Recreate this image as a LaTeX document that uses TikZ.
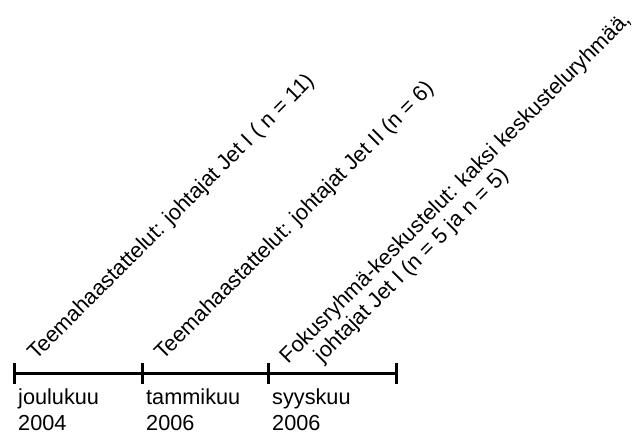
\documentclass[tikz,border=0pt]{standalone}
\usepackage{fontspec}
\setmainfont{Liberation Sans}
\begin{document}
\begin{tikzpicture}[x=1pt,y=-1pt,
  axisline/.style={line width=3pt,black},
  tickmark/.style={line width=3pt,black},
  datelabel/.style={anchor=base west,inner sep=0pt,align=left,
    font=\fontsize{21.7}{26.5}\selectfont},
  phaselabel/.style={anchor=base west,inner sep=0pt,align=left,rotate=45,
    font=\fontsize{21.7}{23.5}\selectfont}]
\useasboundingbox (0,0) rectangle (635,434);

% tick positions on the time axis
\coordinate (t0) at (14,373);
\coordinate (t1) at (142,373);
\coordinate (t2) at (268,373);
\coordinate (t3) at (396,373);

% axis and ticks
\draw[axisline] (t0) -- (t3);
\foreach \t in {t0,t1,t2,t3}
  \draw[tickmark] ([yshift=-10.5pt]\t) -- ([yshift=10.5pt]\t);

% dates below the axis (anchor sits on the last line's baseline)
\node[datelabel] (d0) at (18,430.5) {joulukuu\\2004};
\node[datelabel] (d1) at (146,430.5) {tammikuu\\2006};
\node[datelabel] (d2) at (272,430.5) {syyskuu\\2006};

% slanted phase descriptions
\node[phaselabel] (p0) at (36,361) {Teemahaastattelut: johtajat Jet I ( n = 11)};
\node[phaselabel] (p1) at (163,361) {Teemahaastattelut: johtajat Jet II (n = 6)};
\node[phaselabel] (p2) at (304.6,381) {Fokusryhmä-keskustelut: kaksi keskusteluryhmää,\\\hspace*{25pt}johtajat Jet I (n = 5 ja n = 5)};
\end{tikzpicture}
\end{document}
